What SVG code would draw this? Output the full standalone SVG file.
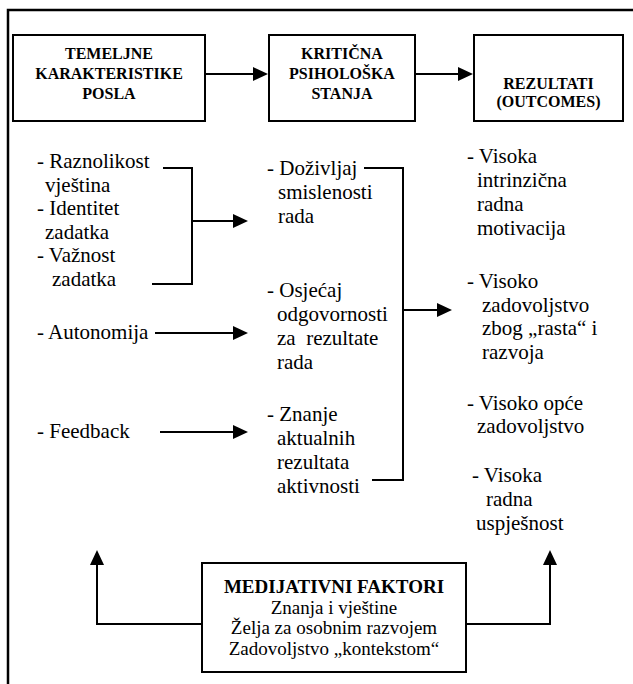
<svg xmlns="http://www.w3.org/2000/svg" width="633" height="684" viewBox="0 0 633 684">
<style>
.box{fill:#fff;stroke:#000;stroke-width:2}
.hd{font-family:"Liberation Serif","Times New Roman",serif;font-weight:bold;font-size:16px;text-anchor:middle}
.t{font-family:"Liberation Serif","Times New Roman",serif;font-size:21px}
.b{font-family:"Liberation Serif","Times New Roman",serif;font-size:19px;text-anchor:middle}
.bb{font-weight:bold}
.ln{fill:none;stroke:#000;stroke-width:2}
.ar{fill:none;stroke:#000;stroke-width:2;marker-end:url(#ah)}
</style>
<defs>
<marker id="ah" viewBox="0 0 15 15" refX="12" refY="7.5" markerWidth="15" markerHeight="15" markerUnits="userSpaceOnUse" orient="auto">
<path d="M0,0.5 L15,7.5 L0,14.5 Z" fill="#000"/>
</marker>
</defs>
<path id="frame" d="M8,684 V10 H633" fill="none" stroke="#000" stroke-width="2.5"/>

<g id="box-temeljne">
<rect class="box" x="13" y="35" width="192" height="86"/>
<text class="hd"><tspan x="109" y="59">TEMELJNE</tspan><tspan x="109" y="79">KARAKTERISTIKE</tspan><tspan x="109" y="99">POSLA</tspan></text>
</g>
<g id="box-kriticna">
<rect class="box" x="269" y="35" width="146" height="86"/>
<text class="hd"><tspan x="342" y="59">KRITIČNA</tspan><tspan x="342" y="79">PSIHOLOŠKA</tspan><tspan x="342" y="99">STANJA</tspan></text>
</g>
<g id="box-rezultati">
<rect class="box" x="474" y="35" width="149" height="86"/>
<text class="hd"><tspan x="548.5" y="89">REZULTATI</tspan><tspan x="548.5" y="107">(OUTCOMES)</tspan></text>
</g>

<g id="left-items" class="t">
<text x="37" y="168">- Raznolikost</text>
<text x="45" y="191.5">vještina</text>
<text x="37" y="215">- Identitet</text>
<text x="45" y="238.5">zadatka</text>
<text x="37" y="262">- Važnost</text>
<text x="52" y="285.5">zadatka</text>
<text x="37" y="339">- Autonomija</text>
<text x="37" y="438">- Feedback</text>
</g>

<g id="middle-items" class="t">
<text x="267" y="175">- Doživljaj</text>
<text x="278" y="199">smislenosti</text>
<text x="278" y="223">rada</text>
<text x="267" y="297">- Osjećaj</text>
<text x="277" y="321">odgovornosti</text>
<text x="277" y="345" xml:space="preserve">za  rezultate</text>
<text x="277" y="369">rada</text>
<text x="267" y="421">- Znanje</text>
<text x="277" y="445">aktualnih</text>
<text x="277" y="469">rezultata</text>
<text x="277" y="493">aktivnosti</text>
</g>

<g id="right-items" class="t">
<text x="467" y="163">- Visoka</text>
<text x="477" y="187">intrinzična</text>
<text x="477" y="211">radna</text>
<text x="477" y="235">motivacija</text>
<text x="467" y="288">- Visoko</text>
<text x="482" y="312">zadovoljstvo</text>
<text x="482" y="335">zbog „rasta“ i</text>
<text x="482" y="359">razvoja</text>
<text x="467" y="410">- Visoko opće</text>
<text x="477" y="433">zadovoljstvo</text>
<text x="472" y="482">- Visoka</text>
<text x="486" y="506">radna</text>
<text x="476" y="530">uspješnost</text>
</g>

<g id="box-medijativni">
<rect class="box" x="202" y="563" width="264" height="109"/>
<text class="b"><tspan class="bb" x="334" y="593">MEDIJATIVNI FAKTORI</tspan><tspan x="334" y="613.5">Znanja i vještine</tspan><tspan x="334" y="634">Želja za osobnim razvojem</tspan><tspan x="334" y="654.5">Zadovoljstvo „kontekstom“</tspan></text>
</g>

<g id="connectors">
<path class="ar" d="M205,74 H265"/>
<path class="ar" d="M415,74 H470"/>
<path class="ln" d="M163,168 H192 V284 H152"/>
<path class="ar" d="M192,221 H245"/>
<path class="ar" d="M155,333 H245"/>
<path class="ar" d="M160,432 H245"/>
<path class="ln" d="M364,168 H403 V480 H372"/>
<path class="ar" d="M403,310 H449"/>
<path class="ar" d="M202,624 H97 V553"/>
<path class="ar" d="M466,624 H550 V553"/>
</g>
</svg>
